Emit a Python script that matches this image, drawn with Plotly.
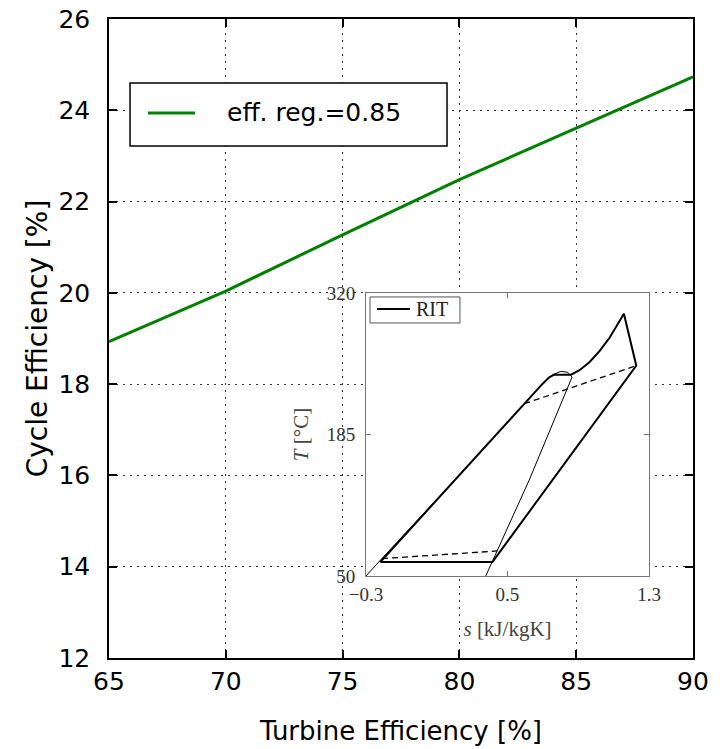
import plotly.graph_objects as go

# ---------------- main chart data ----------------
turb_eff = [65, 66, 70, 75, 80, 85, 90]
cycle_eff = [18.93, 19.15, 20.04, 21.27, 22.48, 23.61, 24.73]
series_name = "eff. reg.=0.85"
x_ticks = [65, 70, 75, 80, 85, 90]
y_ticks = [12, 14, 16, 18, 20, 22, 24, 26]

# ---------------- inset (T-s diagram) data ----------------
cycle_s = [-0.219, 0.207, 0.595, 0.699, 0.736, 0.764, 0.859, 0.907, 0.963, 1.020, 1.077, 1.158, 1.228, 0.415, -0.219]
cycle_T = [63.4, 142.6, 214.4, 233.5, 239.6, 242.1, 242.1, 246.3, 254.0, 264.5, 277.3, 300.2, 250.7, 63.4, 63.4]
dome_s = [-0.300, -0.219, 0.207, 0.595, 0.699, 0.756, 0.803, 0.841, 0.865, 0.623, 0.443, 0.377]
dome_T = [50.0, 65.0, 142.6, 214.4, 233.5, 242.1, 245.3, 244.3, 239.8, 141.6, 73.9, 50.0]
regen_s = [-0.209, 0.443, None, 0.595, 1.228]
regen_T = [66.6, 73.9, None, 214.4, 250.7]
inset_name = "RIT"
s_ticks = [-0.3, 0.5, 1.3]
s_ticktext = ["\u22120.3", "0.5", "1.3"]
T_ticks = [50, 185, 320]
T_ticktext = ["50", "185", "320"]

SANS = "DejaVu Sans"
SERIF = "Liberation Serif"

fig = go.Figure()
fig.add_trace(go.Scatter(x=turb_eff, y=cycle_eff, mode="lines", name=series_name,
                         line=dict(color="#008000", width=3), showlegend=False,
                         xaxis="x", yaxis="y"))
fig.add_trace(go.Scatter(x=dome_s, y=dome_T, mode="lines", showlegend=False,
                         line=dict(color="black", width=1), xaxis="x2", yaxis="y2"))
fig.add_trace(go.Scatter(x=regen_s, y=regen_T, mode="lines", showlegend=False,
                         line=dict(color="black", width=1.3, dash="6px,4px"),
                         xaxis="x2", yaxis="y2"))
fig.add_trace(go.Scatter(x=cycle_s, y=cycle_T, mode="lines", name=inset_name,
                         line=dict(color="black", width=2), showlegend=False,
                         xaxis="x2", yaxis="y2"))

main_axis = dict(showline=True, linecolor="black", linewidth=1.5, mirror="ticks",
                 ticks="inside", ticklen=8, tickwidth=1.5, tickcolor="black",
                 showgrid=True, gridcolor="#333", gridwidth=1, griddash="2px,5px",
                 zeroline=False, automargin=False,
                 tickfont=dict(family=SANS, size=25, color="black"))

inset_axis = dict(showline=True, linecolor="#777", linewidth=1, mirror="ticks",
                  ticks="inside", ticklen=5, tickcolor="#777", showgrid=False,
                  zeroline=False, automargin=False,
                  tickfont=dict(family=SERIF, size=19, color="#333"))

fig.update_layout(
    width=726, height=749,
    margin=dict(l=109, r=33, t=19, b=91),
    paper_bgcolor="white", plot_bgcolor="white",
    showlegend=False,
    xaxis=dict(main_axis, range=[65, 90], tickvals=x_ticks, domain=[0, 1],
               ticklabelstandoff=0,
               title=dict(text="Turbine Efficiency [%]", standoff=27,
                          font=dict(family=SANS, size=26, color="black"))),
    yaxis=dict(main_axis, range=[12, 26], tickvals=y_ticks, domain=[0, 1],
               ticklabelstandoff=12,
               title=dict(text="Cycle Efficiency [%]", standoff=3,
                          font=dict(family=SANS, size=28, color="black"))),
    xaxis2=dict(inset_axis, range=[-0.3, 1.3], tickvals=s_ticks, ticktext=s_ticktext,
                domain=[0.440, 0.9247], anchor="y2", ticklabelstandoff=1,
                title=dict(text="<i>s</i> [kJ/kgK]", standoff=17,
                           font=dict(family=SERIF, size=21, color="#444"))),
    yaxis2=dict(inset_axis, range=[50, 320], tickvals=T_ticks, ticktext=T_ticktext,
                domain=[0.1283, 0.5712], anchor="x2", ticklabelstandoff=6,
                title=dict(text="<i>T</i> [°C]", standoff=12,
                           font=dict(family=SERIF, size=21, color="#444"))),
    shapes=[
        # white background of the inset axes (covers main grid)
        dict(type="rect", xref="x2 domain", yref="y2 domain", x0=0, x1=1, y0=0, y1=1,
             fillcolor="white", line=dict(width=0), layer="below"),
        # main legend
        dict(type="rect", xref="paper", yref="paper", x0=0.036, x1=0.5788,
             y0=0.8013, y1=0.8998, fillcolor="white",
             line=dict(color="black", width=1.5), layer="above"),
        dict(type="line", xref="paper", yref="paper", x0=0.0668, x1=0.1473,
             y0=0.8529, y1=0.8529, line=dict(color="#008000", width=3), layer="above"),
        # inset legend
        dict(type="rect", xref="paper", yref="paper", x0=0.4469, x1=0.601,
             y0=0.5243, y1=0.565, fillcolor="white",
             line=dict(color="#555", width=1), layer="above"),
        dict(type="line", xref="paper", yref="paper", x0=0.4589, x1=0.5154,
             y0=0.5462, y1=0.5462, line=dict(color="black", width=2), layer="above"),
    ],
    annotations=[
        dict(text=series_name, xref="paper", yref="paper", x=0.1986, y=0.8529,
             xanchor="left", yanchor="middle", showarrow=False,
             font=dict(family=SANS, size=25, color="black")),
        dict(text=inset_name, xref="paper", yref="paper", x=0.522, y=0.5462,
             xanchor="left", yanchor="middle", showarrow=False,
             font=dict(family=SERIF, size=20, color="#222")),
    ],
)

fig.write_html("out.html")
